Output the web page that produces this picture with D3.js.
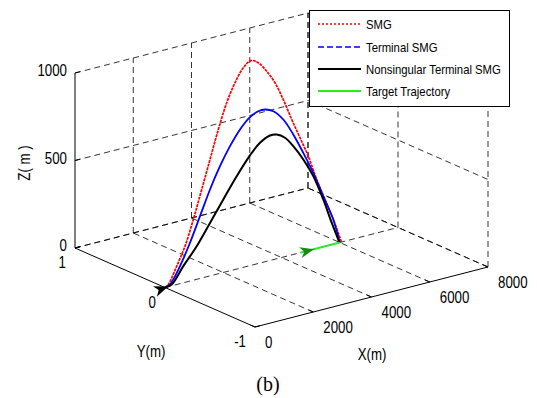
<!DOCTYPE html>
<html>
<head>
<meta charset="utf-8">
<script src="https://cdn.jsdelivr.net/npm/d3@7"></script>
<style>
  html, body { margin: 0; padding: 0; background: #fff; }
  text { font-family: "Liberation Sans", Arial, sans-serif; fill: #000; }
</style>
</head>
<body>
<div id="chart"></div>
<script>
// axis ticks
const xTicks = [0, 2000, 4000, 6000, 8000];
const yTicks = [-1, 0, 1];
const zTicks = [0, 500, 1000];

// trajectories (all in plane y = 0)
const smgX = [0, 113, 402, 687, 972, 1260, 1545, 1830, 2118, 2403, 2688, 2950, 3203, 3491, 3776, 4061, 4350, 4635, 4920, 5208, 5493, 5778, 6060];
const smgZ = [0, 12, 105, 207, 347, 506, 665, 824, 965, 1067, 1140, 1170, 1147, 1086, 1008, 900, 774, 657, 539, 394, 267, 141, 0];

const tsmgX = [0, 172, 515, 858, 1202, 1545, 1888, 2232, 2575, 2918, 3203, 3433, 3718, 4061, 4404, 4748, 5091, 5434, 5778, 6000];
const tsmgZ = [0, 10, 100, 219, 356, 494, 612, 712, 793, 849, 870, 870, 848, 786, 686, 566, 437, 289, 141, 0];

const ntsmgX = [0, 230, 628, 1088, 1545, 2001, 2461, 2918, 3262, 3605, 3835, 4120, 4404, 4748, 5091, 5434, 5723, 5990];
const ntsmgZ = [0, 7, 95, 189, 303, 417, 530, 630, 687, 714, 710, 679, 619, 528, 418, 270, 125, 0];

const targetX = [4650, 6000];
const targetZ = [0, 0];

const legendNames = ['SMG', 'Terminal SMG', 'Nonsingular Terminal SMG', 'Target Trajectory'];

const W = 537, H = 398;

// 3d -> 2d: each axis scale gives a fraction along that box edge
const origin = [255, 327];          // (x=0, y=-1, z=0)
const ex = [233, -60], ey = [-180, -79], ez = [0, -175];
const xs = d3.scaleLinear().domain([0, 8000]).range([0, 1]);
const ys = d3.scaleLinear().domain([-1, 1]).range([0, 1]);
const zs = d3.scaleLinear().domain([0, 1000]).range([0, 1]);

function proj(x, y, z) {
  const a = xs(x), b = ys(y), c = zs(z);
  return [origin[0] + a * ex[0] + b * ey[0] + c * ez[0],
          origin[1] + a * ex[1] + b * ey[1] + c * ez[1]];
}

const svg = d3.select('#chart').append('svg')
  .attr('width', W).attr('height', H)
  .attr('viewBox', `0 0 ${W} ${H}`);
svg.append('rect').attr('width', W).attr('height', H).attr('fill', '#fff');

const seg = (g, p, q, dash, w) => g.append('line')
  .attr('x1', p[0]).attr('y1', p[1]).attr('x2', q[0]).attr('y2', q[1])
  .attr('stroke', '#000')
  .attr('stroke-width', w || (dash ? 0.8 : 1))
  .attr('stroke-dasharray', dash ? '6,4' : null);

// grid on the three back planes
const grid = svg.append('g');
const xmin = 0, xmax = 8000, ymin = -1, ymax = 1, zmin = 0, zmax = 1000;
xTicks.filter(t => t > xmin).forEach(t => {
  seg(grid, proj(t, ymax, zmin), proj(t, ymax, zmax), true);   // back wall
  seg(grid, proj(t, ymin, zmin), proj(t, ymax, zmin), true);   // floor
});
zTicks.forEach(t => {
  seg(grid, proj(xmin, ymax, t), proj(xmax, ymax, t), true);   // back wall
  seg(grid, proj(xmax, ymax, t), proj(xmax, ymin, t), true);   // side wall
});
yTicks.filter(t => t > ymin).forEach(t => {
  seg(grid, proj(xmin, t, zmin), proj(xmax, t, zmin), true);   // floor
});
yTicks.forEach(t => {
  seg(grid, proj(xmax, t, zmin), proj(xmax, t, zmax), true);   // side wall
});

// axes
const axes = svg.append('g');
seg(axes, proj(xmin, ymin, zmin), proj(xmax, ymin, zmin));
seg(axes, proj(xmin, ymin, zmin), proj(xmin, ymax, zmin));
seg(axes, proj(xmin, ymax, zmin), proj(xmin, ymax, zmax));

const unit = v => { const l = Math.hypot(v[0], v[1]); return [v[0] / l, v[1] / l]; };
const ux = unit(ex), uy = unit(ey);
const tl = 5;

function label(x, y, str, size, anchor, sx, rot) {
  svg.append('text')
    .attr('transform', `translate(${x},${y})` + (rot ? ` rotate(${rot})` : '') + ` scale(${sx},1)`)
    .attr('text-anchor', anchor)
    .style('font-size', size + 'px')
    .text(str);
}

xTicks.forEach(t => {
  const p = proj(t, ymin, zmin);
  seg(axes, p, [p[0] + uy[0] * tl, p[1] + uy[1] * tl]);
  label(p[0] + 10, p[1] + 21, t, 16, 'start', 0.83);
});
yTicks.forEach(t => {
  const p = proj(xmin, t, zmin);
  seg(axes, p, [p[0] + ux[0] * tl, p[1] + ux[1] * tl]);
  label(p[0] - 9, p[1] + 20, t, 16, 'end', 0.83);
});
zTicks.forEach(t => {
  const p = proj(xmin, ymax, t);
  seg(axes, p, [p[0] + ux[0] * tl, p[1] + ux[1] * tl]);
  label(p[0] - 8, p[1] + 3, t, 16, 'end', 0.83);
});

label(372, 360, 'X(m)', 16, 'middle', 0.83);
label(151, 357, 'Y(m)', 16, 'middle', 0.83);
label(30, 163, 'Z( m )', 16, 'middle', 0.83, -90);

svg.append('text')
  .attr('x', 268).attr('y', 391)
  .attr('text-anchor', 'middle')
  .style('font-family', '"Liberation Serif", "Times New Roman", serif')
  .style('font-size', '20px')
  .text('(b)');

// trajectories
const line = d3.line().curve(d3.curveCatmullRom.alpha(0.5));
const series = [
  { xs: smgX, zs: smgZ, color: '#ff0000', width: 1.7, dash: '3,0.8' },
  { xs: tsmgX, zs: tsmgZ, color: '#0000ff', width: 1.8, dash: null },
  { xs: ntsmgX, zs: ntsmgZ, color: '#000000', width: 2, dash: null },
];
series.forEach(s => {
  const pts = s.xs.map((x, i) => proj(x, 0, s.zs[i]));
  svg.append('path')
    .attr('d', line(pts))
    .attr('fill', 'none')
    .attr('stroke', s.color)
    .attr('stroke-width', s.width)
    .attr('stroke-dasharray', s.dash)
    .attr('stroke-linejoin', 'round');
});

const tPts = targetX.map((x, i) => proj(x, 0, targetZ[i]));
svg.append('path')
  .attr('d', line(tPts))
  .attr('fill', 'none')
  .attr('stroke', '#22ee22')
  .attr('stroke-width', 2);

function arrowHead(tip, dir, color) {
  const len = 14, hw = 5.5, notch = 4;
  const px = [-dir[1], dir[0]];
  const pts = [
    tip,
    [tip[0] - dir[0] * len + px[0] * hw, tip[1] - dir[1] * len + px[1] * hw],
    [tip[0] - dir[0] * (len - notch), tip[1] - dir[1] * (len - notch)],
    [tip[0] - dir[0] * len - px[0] * hw, tip[1] - dir[1] * len - px[1] * hw],
  ];
  svg.append('path')
    .attr('d', 'M' + pts.map(p => p.join(',')).join('L') + 'Z')
    .attr('fill', color);
}
// missile launch point: tip at the start
const m0 = proj(0, 0, 0);
arrowHead([m0[0] + 3, m0[1] - 1], unit([ux[0], ux[1] - 0.12]), '#000');
// target start: arrow sits just ahead of the start
const t0 = tPts[0];
arrowHead([t0[0] + 14 * ux[0], t0[1] + 14 * ux[1]], ux, '#178a17');

// legend
const lg = svg.append('g');
lg.append('rect')
  .attr('x', 309.5).attr('y', 10.5).attr('width', 200).attr('height', 96)
  .attr('fill', '#fff').attr('stroke', '#000').attr('stroke-width', 1);
const legendStyle = [
  { color: '#ff0000', width: 1.5, dash: '2,2' },
  { color: '#0000ff', width: 1.5, dash: '6,3' },
  { color: '#000000', width: 2, dash: null },
  { color: '#22ee22', width: 2, dash: null },
];
const legendY = [24, 47, 69, 91];
legendNames.forEach((name, i) => {
  lg.append('line')
    .attr('x1', 318).attr('x2', 361)
    .attr('y1', legendY[i]).attr('y2', legendY[i])
    .attr('stroke', legendStyle[i].color)
    .attr('stroke-width', legendStyle[i].width)
    .attr('stroke-dasharray', legendStyle[i].dash);
  label(366, legendY[i] + 4.5, name, 13, 'start', 0.87);
});
</script>
</body>
</html>
